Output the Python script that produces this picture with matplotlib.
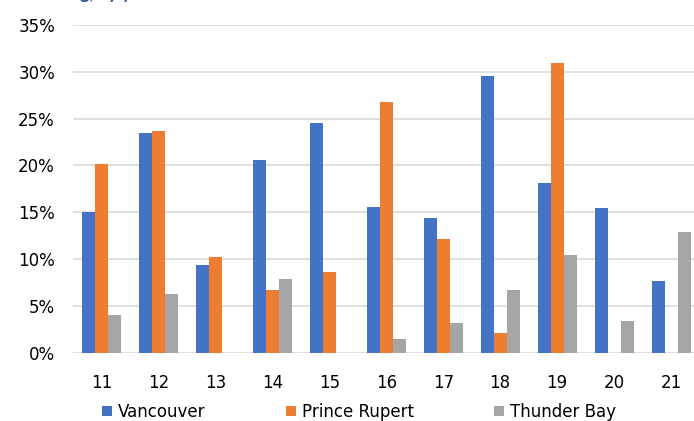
import matplotlib
matplotlib.use('Agg')
import matplotlib.pyplot as plt
import numpy as np

plt.rcParams['font.family'] = ['DejaVu Sans']

years = ['11', '12', '13', '14', '15', '16', '17', '18', '19', '20', '21']
vancouver     = [15.0, 23.5, 9.4, 20.6, 24.5, 15.6, 14.4, 29.5, 18.1, 15.4, 7.7]
prince_rupert = [20.2, 23.7, 10.2, 6.7, 8.6, 26.8, 12.1, 2.1, 30.9, 0, 0]
thunder_bay   = [4.0, 6.3, 0, 7.9, 0, 1.5, 3.2, 6.7, 10.4, 3.4, 12.9]
yticks = [0, 5, 10, 15, 20, 25, 30, 35]

series = [('Vancouver', vancouver, '#4472C4'),
          ('Prince Rupert', prince_rupert, '#ED7D31'),
          ('Thunder Bay', thunder_bay, '#A5A5A5')]

fig = plt.figure(figsize=(6.94, 4.21), dpi=100)
ax = fig.add_axes([73/694, 1 - 352.7/421, 626.5/694, (352.7 - 24.9)/421])

x = np.arange(len(years))
w = 0.228
for i, (name, vals, color) in enumerate(series):
    ax.bar(x + (i - 1) * w, vals, width=w, color=color, label=name, zorder=3)

ax.set_xlim(-0.5, len(years) - 0.5)
ax.set_ylim(0, 35)
ax.set_yticks(yticks)
ax.set_yticklabels([f'{t}%' for t in yticks])
ax.set_xticks(x)
ax.set_xticklabels(years)
ax.grid(axis='y', color='#D9D9D9', lw=1.2, zorder=0)
ax.set_axisbelow(True)
for s in ax.spines.values():
    s.set_visible(False)
ax.tick_params(length=0, labelsize=12, colors='#000000')
ax.tick_params(axis='y', pad=13)
ax.tick_params(axis='x', pad=15)

# title above is cut off by the crop, only descenders show
fig.text(80/694, 1 + 1/421, 'g, by year', fontsize=13, fontweight='bold',
         color='#2F5597', va='baseline', ha='left', family='Lato')

handles, labels = ax.get_legend_handles_labels()
fig.legend(handles, labels, loc='center left', bbox_to_anchor=(102/694, 1 - 412/421),
           ncol=3, frameon=False, fontsize=12, handlelength=0.6, handleheight=0.6,
           handletextpad=0.36, columnspacing=4.8, borderpad=0, borderaxespad=0)

fig.savefig('out.png', dpi=100)
